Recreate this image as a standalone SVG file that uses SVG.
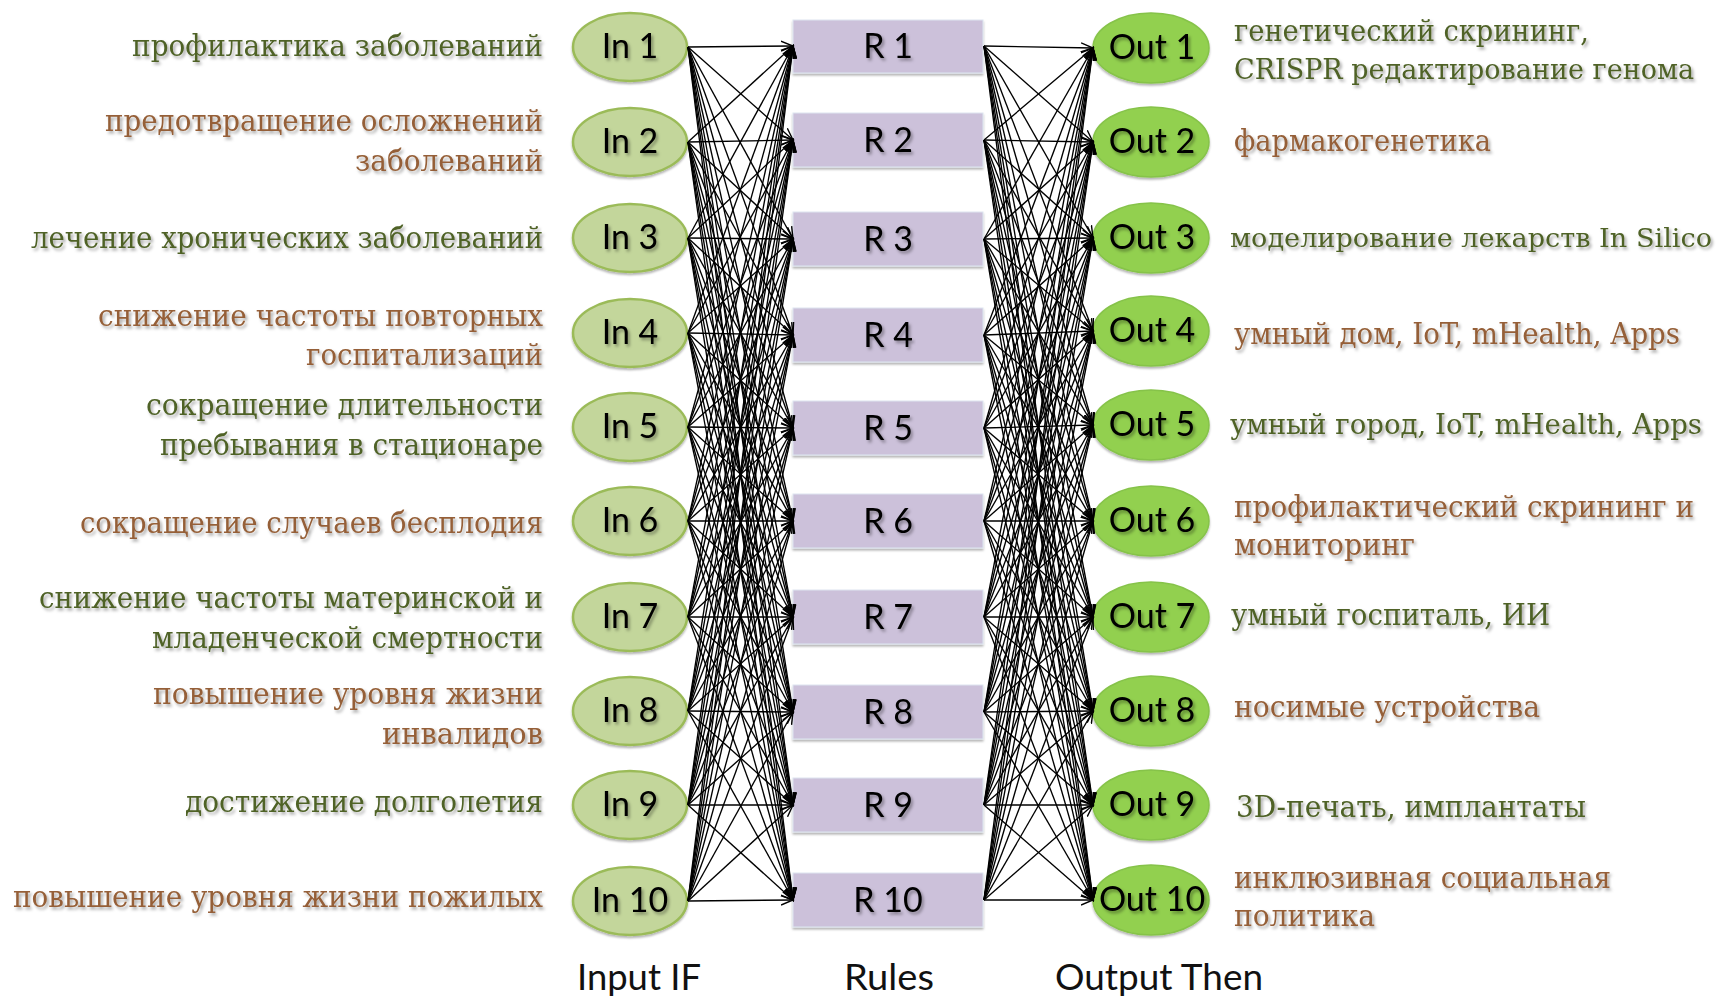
<svg xmlns="http://www.w3.org/2000/svg" width="1727" height="998" viewBox="0 0 1727 998">
<defs>
<filter id="tsh" x="-5%" y="-30%" width="110%" height="170%"><feDropShadow dx="2" dy="2.5" stdDeviation="1.6" flood-color="#000" flood-opacity="0.35"/></filter>
<filter id="bsh" x="-5%" y="-20%" width="110%" height="150%"><feDropShadow dx="0" dy="2" stdDeviation="1.2" flood-color="#000" flood-opacity="0.3"/></filter>
<marker id="arr" markerUnits="userSpaceOnUse" markerWidth="14" markerHeight="12" refX="12" refY="6" orient="auto"><path d="M0,1 L12,6 L0,11" fill="none" stroke="#000" stroke-width="1.4"/></marker>
</defs>
<style>
.lab{font-family:"DejaVu Serif","Liberation Serif",serif;font-size:30px;filter:url(#tsh)}
.sm{font-size:27px}
.xs{font-size:26px}
.g{fill:#4f6228}
.b{fill:#955f37}
.inn{fill:#c3d69b;stroke:#9bbb59;stroke-width:2.5;filter:url(#bsh)}
.out{fill:#92d050;stroke:#86c349;stroke-width:1.5;filter:url(#bsh)}
.rule{fill:#ccc1da;stroke:#dde6f0;stroke-width:1;filter:url(#bsh)}
.nt{font-family:Lato,"Open Sans",sans-serif;font-size:34px;fill:#000;text-anchor:middle;filter:url(#tsh)}
.cap{font-family:Lato,"Open Sans",sans-serif;font-size:36px;fill:#111;text-anchor:middle}
.c path{fill:none;stroke:#000;stroke-width:1.35;marker-end:url(#arr)}
</style>
<rect width="1727" height="998" fill="#fff"/>

<g id="labels-left">
<text class="lab g" x="132" y="56" textLength="411" lengthAdjust="spacingAndGlyphs">профилактика заболеваний</text>
<text class="lab b" x="105" y="131" textLength="438" lengthAdjust="spacingAndGlyphs">предотвращение осложнений</text>
<text class="lab b" x="355" y="171" textLength="188" lengthAdjust="spacingAndGlyphs">заболеваний</text>
<text class="lab g" x="31" y="248" textLength="512" lengthAdjust="spacingAndGlyphs">лечение хронических заболеваний</text>
<text class="lab b" x="98" y="326" textLength="445" lengthAdjust="spacingAndGlyphs">снижение частоты повторных</text>
<text class="lab b" x="306" y="365" textLength="237" lengthAdjust="spacingAndGlyphs">госпитализаций</text>
<text class="lab g" x="146" y="415" textLength="397" lengthAdjust="spacingAndGlyphs">сокращение длительности</text>
<text class="lab g" x="160" y="455" textLength="383" lengthAdjust="spacingAndGlyphs">пребывания в стационаре</text>
<text class="lab b" x="80" y="533" textLength="463" lengthAdjust="spacingAndGlyphs">сокращение случаев бесплодия</text>
<text class="lab g" x="39" y="608" textLength="504" lengthAdjust="spacingAndGlyphs">снижение частоты материнской и</text>
<text class="lab g" x="152" y="648" textLength="391" lengthAdjust="spacingAndGlyphs">младенческой смертности</text>
<text class="lab b" x="153" y="704" textLength="390" lengthAdjust="spacingAndGlyphs">повышение уровня жизни</text>
<text class="lab b" x="382" y="744" textLength="161" lengthAdjust="spacingAndGlyphs">инвалидов</text>
<text class="lab g" x="185" y="812" textLength="358" lengthAdjust="spacingAndGlyphs">достижение долголетия</text>
<text class="lab b" x="13" y="907" textLength="530" lengthAdjust="spacingAndGlyphs">повышение уровня жизни пожилых</text>
</g>

<g id="labels-right">
<text class="lab g" x="1234" y="41" textLength="355" lengthAdjust="spacingAndGlyphs">генетический скрининг,</text>
<text class="lab sm g" x="1234" y="79" textLength="460" lengthAdjust="spacingAndGlyphs">CRISPR редактирование генома</text>
<text class="lab b" x="1234" y="151" textLength="257" lengthAdjust="spacingAndGlyphs">фармакогенетика</text>
<text class="lab xs g" x="1230" y="247" textLength="482" lengthAdjust="spacingAndGlyphs">моделирование лекарств In Silico</text>
<text class="lab b" x="1234" y="344" textLength="446" lengthAdjust="spacingAndGlyphs">умный дом, IoT, mHealth, Apps</text>
<text class="lab sm g" x="1230" y="434" textLength="472" lengthAdjust="spacingAndGlyphs">умный город, IoT, mHealth, Apps</text>
<text class="lab b" x="1234" y="517" textLength="460" lengthAdjust="spacingAndGlyphs">профилактический скрининг и</text>
<text class="lab b" x="1234" y="555" textLength="181" lengthAdjust="spacingAndGlyphs">мониторинг</text>
<text class="lab g" x="1231" y="625" textLength="319" lengthAdjust="spacingAndGlyphs">умный госпиталь, ИИ</text>
<text class="lab b" x="1234" y="717" textLength="306" lengthAdjust="spacingAndGlyphs">носимые устройства</text>
<text class="lab g" x="1236" y="817" textLength="350" lengthAdjust="spacingAndGlyphs">3D-печать, имплантаты</text>
<text class="lab b" x="1234" y="888" textLength="377" lengthAdjust="spacingAndGlyphs">инклюзивная социальная</text>
<text class="lab b" x="1234" y="926" textLength="141" lengthAdjust="spacingAndGlyphs">политика</text>
</g>

<g id="in1"><ellipse class="inn" cx="630" cy="47" rx="57" ry="34"/><text class="nt" x="630" y="58">In 1</text></g>
<g id="in2"><ellipse class="inn" cx="630" cy="142" rx="57" ry="34"/><text class="nt" x="630" y="153">In 2</text></g>
<g id="in3"><ellipse class="inn" cx="630" cy="238" rx="57" ry="34"/><text class="nt" x="630" y="249">In 3</text></g>
<g id="in4"><ellipse class="inn" cx="630" cy="333" rx="57" ry="34"/><text class="nt" x="630" y="344">In 4</text></g>
<g id="in5"><ellipse class="inn" cx="630" cy="427" rx="57" ry="34"/><text class="nt" x="630" y="438">In 5</text></g>
<g id="in6"><ellipse class="inn" cx="630" cy="521" rx="57" ry="34"/><text class="nt" x="630" y="532">In 6</text></g>
<g id="in7"><ellipse class="inn" cx="630" cy="617" rx="57" ry="34"/><text class="nt" x="630" y="628">In 7</text></g>
<g id="in8"><ellipse class="inn" cx="630" cy="711" rx="57" ry="34"/><text class="nt" x="630" y="722">In 8</text></g>
<g id="in9"><ellipse class="inn" cx="630" cy="805" rx="57" ry="34"/><text class="nt" x="630" y="816">In 9</text></g>
<g id="in10"><ellipse class="inn" cx="630" cy="901" rx="57" ry="34"/><text class="nt" x="630" y="912">In 10</text></g>

<g id="r1"><rect class="rule" x="793" y="20" width="190" height="53"/><text class="nt" x="888" y="58">R 1</text></g>
<g id="r2"><rect class="rule" x="793" y="113" width="190" height="54"/><text class="nt" x="888" y="152">R 2</text></g>
<g id="r3"><rect class="rule" x="793" y="212" width="190" height="54"/><text class="nt" x="888" y="251">R 3</text></g>
<g id="r4"><rect class="rule" x="793" y="308" width="190" height="54"/><text class="nt" x="888" y="347">R 4</text></g>
<g id="r5"><rect class="rule" x="793" y="401" width="190" height="54"/><text class="nt" x="888" y="440">R 5</text></g>
<g id="r6"><rect class="rule" x="793" y="494" width="190" height="54"/><text class="nt" x="888" y="533">R 6</text></g>
<g id="r7"><rect class="rule" x="793" y="590" width="190" height="54"/><text class="nt" x="888" y="629">R 7</text></g>
<g id="r8"><rect class="rule" x="793" y="685" width="190" height="54"/><text class="nt" x="888" y="724">R 8</text></g>
<g id="r9"><rect class="rule" x="793" y="778" width="190" height="54"/><text class="nt" x="888" y="817">R 9</text></g>
<g id="r10"><rect class="rule" x="793" y="873" width="190" height="54"/><text class="nt" x="888" y="912">R 10</text></g>

<g id="out1"><ellipse class="out" cx="1151" cy="48" rx="58" ry="35"/><text class="nt" x="1152" y="59">Out 1</text></g>
<g id="out2"><ellipse class="out" cx="1151" cy="142" rx="58" ry="35"/><text class="nt" x="1152" y="153">Out 2</text></g>
<g id="out3"><ellipse class="out" cx="1151" cy="238" rx="58" ry="35"/><text class="nt" x="1152" y="249">Out 3</text></g>
<g id="out4"><ellipse class="out" cx="1151" cy="331" rx="58" ry="35"/><text class="nt" x="1152" y="342">Out 4</text></g>
<g id="out5"><ellipse class="out" cx="1151" cy="425" rx="58" ry="35"/><text class="nt" x="1152" y="436">Out 5</text></g>
<g id="out6"><ellipse class="out" cx="1151" cy="521" rx="58" ry="35"/><text class="nt" x="1152" y="532">Out 6</text></g>
<g id="out7"><ellipse class="out" cx="1151" cy="617" rx="58" ry="35"/><text class="nt" x="1152" y="628">Out 7</text></g>
<g id="out8"><ellipse class="out" cx="1151" cy="711" rx="58" ry="35"/><text class="nt" x="1152" y="722">Out 8</text></g>
<g id="out9"><ellipse class="out" cx="1151" cy="805" rx="58" ry="35"/><text class="nt" x="1152" y="816">Out 9</text></g>
<g id="out10"><ellipse class="out" cx="1151" cy="900" rx="58" ry="35"/><text class="nt" x="1152" y="911">Out 10</text></g>

<g id="connectors" class="c">
<path d="M688 47L793 46"/><path d="M688 47L793 140"/><path d="M688 47L793 239"/><path d="M688 47L793 335"/><path d="M688 47L793 428"/><path d="M688 47L793 521"/><path d="M688 47L793 617"/><path d="M688 47L793 712"/><path d="M688 47L793 805"/><path d="M688 47L793 900"/>
<path d="M688 142L793 46"/><path d="M688 142L793 140"/><path d="M688 142L793 239"/><path d="M688 142L793 335"/><path d="M688 142L793 428"/><path d="M688 142L793 521"/><path d="M688 142L793 617"/><path d="M688 142L793 712"/><path d="M688 142L793 805"/><path d="M688 142L793 900"/>
<path d="M688 238L793 46"/><path d="M688 238L793 140"/><path d="M688 238L793 239"/><path d="M688 238L793 335"/><path d="M688 238L793 428"/><path d="M688 238L793 521"/><path d="M688 238L793 617"/><path d="M688 238L793 712"/><path d="M688 238L793 805"/><path d="M688 238L793 900"/>
<path d="M688 333L793 46"/><path d="M688 333L793 140"/><path d="M688 333L793 239"/><path d="M688 333L793 335"/><path d="M688 333L793 428"/><path d="M688 333L793 521"/><path d="M688 333L793 617"/><path d="M688 333L793 712"/><path d="M688 333L793 805"/><path d="M688 333L793 900"/>
<path d="M688 427L793 46"/><path d="M688 427L793 140"/><path d="M688 427L793 239"/><path d="M688 427L793 335"/><path d="M688 427L793 428"/><path d="M688 427L793 521"/><path d="M688 427L793 617"/><path d="M688 427L793 712"/><path d="M688 427L793 805"/><path d="M688 427L793 900"/>
<path d="M688 521L793 46"/><path d="M688 521L793 140"/><path d="M688 521L793 239"/><path d="M688 521L793 335"/><path d="M688 521L793 428"/><path d="M688 521L793 521"/><path d="M688 521L793 617"/><path d="M688 521L793 712"/><path d="M688 521L793 805"/><path d="M688 521L793 900"/>
<path d="M688 617L793 46"/><path d="M688 617L793 140"/><path d="M688 617L793 239"/><path d="M688 617L793 335"/><path d="M688 617L793 428"/><path d="M688 617L793 521"/><path d="M688 617L793 617"/><path d="M688 617L793 712"/><path d="M688 617L793 805"/><path d="M688 617L793 900"/>
<path d="M688 711L793 46"/><path d="M688 711L793 140"/><path d="M688 711L793 239"/><path d="M688 711L793 335"/><path d="M688 711L793 428"/><path d="M688 711L793 521"/><path d="M688 711L793 617"/><path d="M688 711L793 712"/><path d="M688 711L793 805"/><path d="M688 711L793 900"/>
<path d="M688 805L793 46"/><path d="M688 805L793 140"/><path d="M688 805L793 239"/><path d="M688 805L793 335"/><path d="M688 805L793 428"/><path d="M688 805L793 521"/><path d="M688 805L793 617"/><path d="M688 805L793 712"/><path d="M688 805L793 805"/><path d="M688 805L793 900"/>
<path d="M688 901L793 46"/><path d="M688 901L793 140"/><path d="M688 901L793 239"/><path d="M688 901L793 335"/><path d="M688 901L793 428"/><path d="M688 901L793 521"/><path d="M688 901L793 617"/><path d="M688 901L793 712"/><path d="M688 901L793 805"/><path d="M688 901L793 900"/>
<path d="M984 46L1093 48"/><path d="M984 46L1093 142"/><path d="M984 46L1093 238"/><path d="M984 46L1093 331"/><path d="M984 46L1093 425"/><path d="M984 46L1093 521"/><path d="M984 46L1093 617"/><path d="M984 46L1093 711"/><path d="M984 46L1093 805"/><path d="M984 46L1093 900"/>
<path d="M984 140L1093 48"/><path d="M984 140L1093 142"/><path d="M984 140L1093 238"/><path d="M984 140L1093 331"/><path d="M984 140L1093 425"/><path d="M984 140L1093 521"/><path d="M984 140L1093 617"/><path d="M984 140L1093 711"/><path d="M984 140L1093 805"/><path d="M984 140L1093 900"/>
<path d="M984 239L1093 48"/><path d="M984 239L1093 142"/><path d="M984 239L1093 238"/><path d="M984 239L1093 331"/><path d="M984 239L1093 425"/><path d="M984 239L1093 521"/><path d="M984 239L1093 617"/><path d="M984 239L1093 711"/><path d="M984 239L1093 805"/><path d="M984 239L1093 900"/>
<path d="M984 335L1093 48"/><path d="M984 335L1093 142"/><path d="M984 335L1093 238"/><path d="M984 335L1093 331"/><path d="M984 335L1093 425"/><path d="M984 335L1093 521"/><path d="M984 335L1093 617"/><path d="M984 335L1093 711"/><path d="M984 335L1093 805"/><path d="M984 335L1093 900"/>
<path d="M984 428L1093 48"/><path d="M984 428L1093 142"/><path d="M984 428L1093 238"/><path d="M984 428L1093 331"/><path d="M984 428L1093 425"/><path d="M984 428L1093 521"/><path d="M984 428L1093 617"/><path d="M984 428L1093 711"/><path d="M984 428L1093 805"/><path d="M984 428L1093 900"/>
<path d="M984 521L1093 48"/><path d="M984 521L1093 142"/><path d="M984 521L1093 238"/><path d="M984 521L1093 331"/><path d="M984 521L1093 425"/><path d="M984 521L1093 521"/><path d="M984 521L1093 617"/><path d="M984 521L1093 711"/><path d="M984 521L1093 805"/><path d="M984 521L1093 900"/>
<path d="M984 617L1093 48"/><path d="M984 617L1093 142"/><path d="M984 617L1093 238"/><path d="M984 617L1093 331"/><path d="M984 617L1093 425"/><path d="M984 617L1093 521"/><path d="M984 617L1093 617"/><path d="M984 617L1093 711"/><path d="M984 617L1093 805"/><path d="M984 617L1093 900"/>
<path d="M984 712L1093 48"/><path d="M984 712L1093 142"/><path d="M984 712L1093 238"/><path d="M984 712L1093 331"/><path d="M984 712L1093 425"/><path d="M984 712L1093 521"/><path d="M984 712L1093 617"/><path d="M984 712L1093 711"/><path d="M984 712L1093 805"/><path d="M984 712L1093 900"/>
<path d="M984 805L1093 48"/><path d="M984 805L1093 142"/><path d="M984 805L1093 238"/><path d="M984 805L1093 331"/><path d="M984 805L1093 425"/><path d="M984 805L1093 521"/><path d="M984 805L1093 617"/><path d="M984 805L1093 711"/><path d="M984 805L1093 805"/><path d="M984 805L1093 900"/>
<path d="M984 900L1093 48"/><path d="M984 900L1093 142"/><path d="M984 900L1093 238"/><path d="M984 900L1093 331"/><path d="M984 900L1093 425"/><path d="M984 900L1093 521"/><path d="M984 900L1093 617"/><path d="M984 900L1093 711"/><path d="M984 900L1093 805"/><path d="M984 900L1093 900"/>
</g>

<g id="captions">
<text class="cap" x="639" y="990" textLength="124" lengthAdjust="spacingAndGlyphs">Input IF</text>
<text class="cap" x="889" y="990" textLength="90" lengthAdjust="spacingAndGlyphs">Rules</text>
<text class="cap" x="1159" y="990" textLength="208" lengthAdjust="spacingAndGlyphs">Output Then</text>
</g>
</svg>
